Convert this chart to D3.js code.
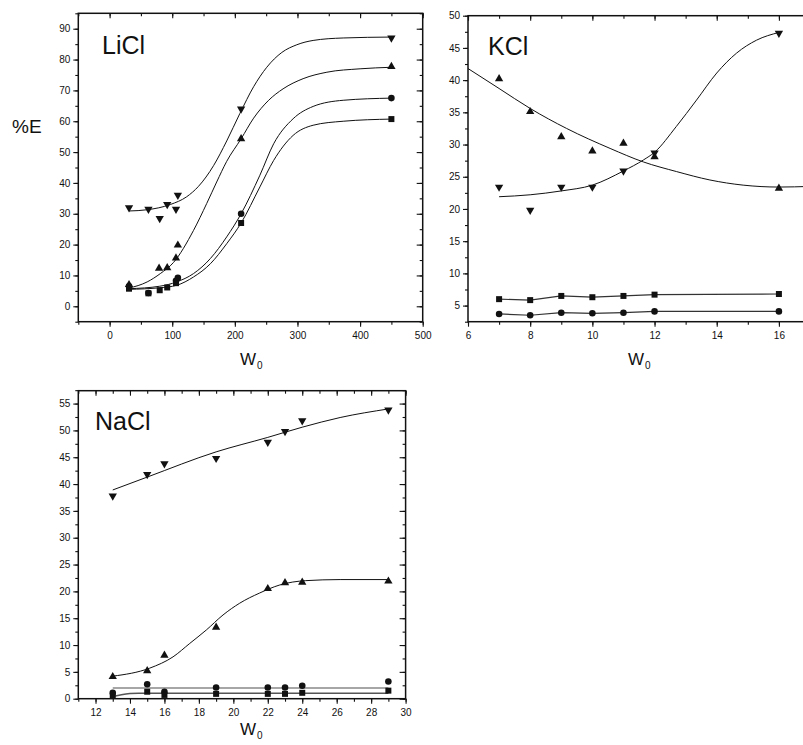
<!DOCTYPE html>
<html><head><meta charset="utf-8">
<script src="https://cdn.jsdelivr.net/npm/d3@7"></script>
<style>
body{margin:0;background:#fff;}
svg text{font-family:"Liberation Sans",Arial,sans-serif;fill:#111;}
</style></head><body>
<svg id="c" width="803" height="745"></svg>
<script>
// ---------- LiCl ----------
const liclDownW = [31, 62, 80, 92, 106, 109, 210, 450];
const liclDownE = [32, 31.5, 28.5, 33, 31.5, 36, 64, 87];
const liclUpW = [31, 79, 92, 106, 109, 210, 450];
const liclUpE = [7, 12.3, 12.5, 15.6, 19.8, 54.3, 77.7];
const liclCircW = [31, 62, 106, 109, 210, 450];
const liclCircE = [6.5, 4.3, 8.3, 9.2, 30, 67.5];
const liclSqW = [31, 62, 80, 92, 106, 210, 450];
const liclSqE = [5.7, 4.2, 5.2, 6.1, 7.5, 27, 60.7];

const liclDownFitW = [31, 60, 97, 123, 142, 166, 187, 208, 230, 251, 275, 299, 325, 373, 450];
const liclDownFitE = [30.9, 31.3, 33.0, 35.5, 38.9, 45.6, 53.6, 62.5, 71.2, 77.5, 82.3, 84.8, 86.2, 87, 87.3];
const liclUpFitW = [31, 60, 81, 102, 134, 155, 171, 187, 210, 230, 254, 277, 309, 347, 400, 450];
const liclUpFitE = [5.9, 7.9, 10.6, 14.2, 24.6, 33.3, 40.3, 47, 54.3, 61, 66.8, 70.5, 73.8, 75.9, 77, 77.5];
const liclCircFitW = [31, 80, 107, 134, 161, 187, 210, 240, 262, 293, 325, 373, 450];
const liclCircFitE = [5.7, 6.5, 7.9, 10.6, 15.5, 22.5, 30, 42.5, 52.7, 60.8, 64.8, 66.8, 67.5];
const liclSqFitW = [31, 80, 107, 134, 161, 187, 210, 240, 262, 293, 325, 373, 450];
const liclSqFitE = [5.5, 6.0, 6.8, 9.5, 13.8, 20.3, 27, 38.7, 47.3, 55.4, 58.7, 60, 60.7];

// ---------- KCl ----------
const kclW = [7, 8, 9, 10, 11, 12, 16];
const kclUpE = [40.2, 35.1, 31.2, 29, 30.2, 28.1, 23.2];
const kclDownE = [23.4, 19.8, 23.4, 23.4, 25.9, 28.7, 47.3];
const kclSqE = [6.0, 5.85, 6.5, 6.3, 6.5, 6.7, 6.8];
const kclCircE = [3.7, 3.5, 3.9, 3.8, 3.9, 4.1, 4.1];

const kclUpFitW = [6, 7, 8, 9.17, 10.57, 11.64, 12.71, 13.78, 14.85, 16, 17];
const kclUpFitE = [41.8, 38.7, 35.6, 32.5, 29.4, 27.3, 25.8, 24.5, 23.7, 23.4, 23.5];
const kclDownFitW = [7, 8, 9, 10, 11, 11.64, 12, 12.7, 13.35, 14, 14.64, 15.28, 16];
const kclDownFitE = [21.9, 22.2, 22.8, 23.7, 25.9, 27.6, 28.8, 32.8, 36.9, 41.1, 44.2, 46.2, 47.4];

// ---------- NaCl ----------
const naclW = [13, 15, 16, 19, 22, 23, 24, 29];
const naclDownE = [37.8, 41.8, 43.8, 44.8, 47.8, 49.8, 51.8, 53.8];
const naclUpE = [4.1, 5.2, 8.1, 13.3, 20.5, 21.6, 21.7, 21.9];
const naclCircE = [1.1, 2.7, 1.3, 2.1, 2.1, 2.1, 2.4, 3.2];
const naclSqE = [0.5, 1.3, 0.7, 0.9, 0.9, 0.9, 1.1, 1.5];

const naclDownFitW = [13, 15, 19, 22, 24, 26.2, 29];
const naclDownFitE = [38.9, 41.3, 46.0, 48.7, 50.6, 52.4, 54.0];
const naclUpFitW = [13, 15.15, 16.5, 17.47, 18.43, 19.4, 20.37, 21.53, 22.7, 24.2, 26.2, 29];
const naclUpFitE = [4.2, 5.7, 7.8, 10.3, 12.8, 15.6, 17.8, 19.7, 21.2, 22, 22.2, 22.2];
const naclCircFitW = [13, 29];
const naclCircFitE = [2.0, 2.0];
const naclSqFitW = [13, 13.5, 14, 14.5, 29];
const naclSqFitE = [0.4, 0.75, 0.95, 1.0, 1.0];

// tick values
const liclXMajor = [0, 100, 200, 300, 400, 500];
const liclYMajor = [0, 10, 20, 30, 40, 50, 60, 70, 80, 90];
const kclXMajor = [6, 8, 10, 12, 14, 16];
const kclYMajor = [5, 10, 15, 20, 25, 30, 35, 40, 45, 50];
const naclXMajor = [12, 14, 16, 18, 20, 22, 24, 26, 28, 30];
const naclYMajor = [0, 5, 10, 15, 20, 25, 30, 35, 40, 45, 50, 55];

const svg = d3.select("#c");

function symbolPath(kind) {
  if (kind === "down" || kind === "up") return d3.symbol().type(d3.symbolTriangle).size(30)();
  if (kind === "circle") return d3.symbol().type(d3.symbolCircle).size(34)();
  return d3.symbol().type(d3.symbolSquare).size(36)();
}

function range(a, b, s) { const r = []; for (let v = a; v <= b + 1e-9; v += s) r.push(+v.toFixed(4)); return r; }

function panel(o) {
  const g = svg.append("g");
  const x = d3.scaleLinear().domain(o.xDom).range([o.left, o.right]);
  const y = d3.scaleLinear().domain(o.yDom).range([o.bottom, o.top]);

  const styleAxis = sel => {
    sel.select(".domain").remove();
    sel.selectAll("line").attr("stroke", "#111").attr("stroke-width", 1.1);
    sel.selectAll("text").attr("font-size", 10).attr("fill", "#222");
  };

  // minor ticks
  g.append("g").attr("transform", `translate(0,${o.bottom})`)
    .call(d3.axisBottom(x).tickValues(o.xMinor).tickSize(3).tickFormat("")).call(styleAxis);
  g.append("g").attr("transform", `translate(${o.left},0)`)
    .call(d3.axisLeft(y).tickValues(o.yMinor).tickSize(3).tickFormat("")).call(styleAxis);
  g.append("g").attr("transform", `translate(0,${o.top})`)
    .call(d3.axisTop(x).tickValues(o.xMinor).tickSize(-3).tickFormat("")).call(styleAxis);
  g.append("g").attr("transform", `translate(${o.right},0)`)
    .call(d3.axisRight(y).tickValues(o.yMinor).tickSize(-3).tickFormat("")).call(styleAxis);
  // major ticks
  g.append("g").attr("transform", `translate(0,${o.bottom})`)
    .call(d3.axisBottom(x).tickValues(o.xMajor).tickSize(5).tickPadding(5).tickFormat(d3.format("d"))).call(styleAxis);
  g.append("g").attr("transform", `translate(${o.left},0)`)
    .call(d3.axisLeft(y).tickValues(o.yMajor).tickSize(5).tickPadding(3).tickFormat(d3.format("d"))).call(styleAxis);
  g.append("g").attr("transform", `translate(0,${o.top})`)
    .call(d3.axisTop(x).tickValues(o.xMajor).tickSize(-5).tickFormat("")).call(styleAxis);
  g.append("g").attr("transform", `translate(${o.right},0)`)
    .call(d3.axisRight(y).tickValues(o.yMajor).tickSize(-6).tickFormat("")).call(styleAxis);

  // frame
  g.append("rect").attr("x", o.left).attr("y", o.top)
    .attr("width", o.right - o.left).attr("height", o.bottom - o.top)
    .attr("fill", "none").attr("stroke", "#111").attr("stroke-width", 1.5);

  // fitted / connecting lines
  o.fits.forEach(f => {
    const line = d3.line().x(d => x(d[0])).y(d => y(d[1]))
      .curve(f.straight ? d3.curveLinear : d3.curveMonotoneX);
    g.append("path").datum(d3.zip(f.w, f.e)).attr("d", line)
      .attr("fill", "none").attr("stroke", f.color || "#111").attr("stroke-width", f.width || 1);
  });

  // symbols
  o.series.forEach(s => {
    const path = symbolPath(s.kind);
    g.selectAll(null).data(d3.zip(s.w, s.e)).join("path")
      .attr("d", path)
      .attr("transform", d => `translate(${x(d[0])},${y(d[1])})` + (s.kind === "down" ? " rotate(180)" : ""))
      .attr("fill", "#111");
  });

  // panel name
  g.append("text").attr("x", o.nameX).attr("y", o.nameY).attr("font-size", 25).text(o.name);

  // axis title W0
  const t = g.append("text").attr("x", o.titleX).attr("y", o.titleY).attr("font-size", 17);
  t.append("tspan").text("W");
  t.append("tspan").attr("font-size", 10).attr("dy", 4).attr("dx", 1).text("0");
}

panel({
  name: "LiCl", nameX: 102, nameY: 54,
  left: 78.3, right: 422.7, top: 13.3, bottom: 321.7,
  xDom: [-50, 500], yDom: [-5, 95],
  xMajor: liclXMajor, xMinor: range(-50, 500, 50),
  yMajor: liclYMajor, yMinor: range(-5, 95, 5),
  titleX: 240, titleY: 365,
  fits: [
    { w: liclDownFitW, e: liclDownFitE },
    { w: liclUpFitW, e: liclUpFitE },
    { w: liclCircFitW, e: liclCircFitE },
    { w: liclSqFitW, e: liclSqFitE }
  ],
  series: [
    { kind: "down", w: liclDownW, e: liclDownE },
    { kind: "up", w: liclUpW, e: liclUpE },
    { kind: "circle", w: liclCircW, e: liclCircE },
    { kind: "square", w: liclSqW, e: liclSqE }
  ]
});

panel({
  name: "KCl", nameX: 488, nameY: 55,
  left: 468, right: 810, top: 15.7, bottom: 321.7,
  xDom: [6, 17], yDom: [2.5, 50],
  xMajor: kclXMajor, xMinor: range(6, 17, 1),
  yMajor: kclYMajor, yMinor: range(2.5, 50, 2.5),
  titleX: 628, titleY: 365,
  fits: [
    { w: kclUpFitW, e: kclUpFitE },
    { w: kclDownFitW, e: kclDownFitE },
    { w: kclW, e: kclSqE, straight: true, color: "#333", width: 1.2 },
    { w: kclW, e: kclCircE, straight: true, color: "#333", width: 1.2 }
  ],
  series: [
    { kind: "up", w: kclW, e: kclUpE },
    { kind: "down", w: kclW, e: kclDownE },
    { kind: "square", w: kclW, e: kclSqE },
    { kind: "circle", w: kclW, e: kclCircE }
  ]
});

panel({
  name: "NaCl", nameX: 95, nameY: 430,
  left: 78.3, right: 405.6, top: 390.7, bottom: 698.7,
  xDom: [11, 30], yDom: [0, 57.4],
  xMajor: naclXMajor, xMinor: range(11, 30, 1),
  yMajor: naclYMajor, yMinor: range(0, 57.5, 2.5),
  titleX: 240, titleY: 735,
  fits: [
    { w: naclDownFitW, e: naclDownFitE },
    { w: naclUpFitW, e: naclUpFitE },
    { w: naclCircFitW, e: naclCircFitE, color: "#888", width: 1.5 },
    { w: naclSqFitW, e: naclSqFitE, color: "#555", width: 1.5 }
  ],
  series: [
    { kind: "down", w: naclW, e: naclDownE },
    { kind: "up", w: naclW, e: naclUpE },
    { kind: "circle", w: naclW, e: naclCircE },
    { kind: "square", w: naclW, e: naclSqE }
  ]
});

// shared y title
svg.append("text").attr("x", 12).attr("y", 133).attr("font-size", 19).text("%E");
</script>
</body></html>
